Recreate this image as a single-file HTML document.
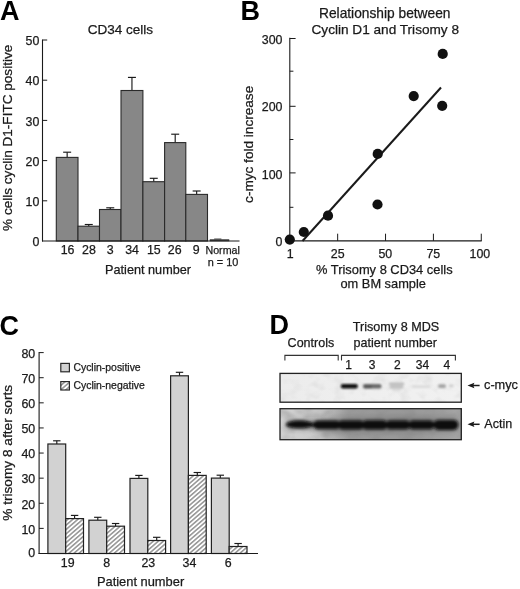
<!DOCTYPE html>
<html lang="en">
<head>
<meta charset="utf-8">
<title>Figure</title>
<style>
html,body{margin:0;padding:0;background:#fff;}
body{width:520px;height:589px;overflow:hidden;font-family:"Liberation Sans",sans-serif;}
svg{display:block;filter:grayscale(1) blur(0.3px);}
svg text{font-family:"Liberation Sans",sans-serif;fill:#1a1a1a;stroke:#1a1a1a;stroke-width:0.25px;}
</style>
</head>
<body>
<svg width="520" height="589" viewBox="0 0 520 589">
<defs>
<pattern id="hatch" width="3.3" height="8" patternUnits="userSpaceOnUse" patternTransform="rotate(49)">
<rect width="3.3" height="8" fill="#fff"/>
<line x1="0.8" y1="0" x2="0.8" y2="8" stroke="#1c1c1c" stroke-width="0.8"/>
</pattern>
<linearGradient id="b1bg" x1="0" x2="1" y1="0" y2="0">
<stop offset="0" stop-color="#ececec"/><stop offset="0.5" stop-color="#efefef"/><stop offset="1" stop-color="#f1f1f1"/>
</linearGradient>
<linearGradient id="b2bg" x1="0" x2="1" y1="0" y2="0">
<stop offset="0" stop-color="#d2d2d2"/><stop offset="0.22" stop-color="#cacaca"/><stop offset="0.38" stop-color="#9e9e9e"/><stop offset="0.7" stop-color="#9a9a9a"/><stop offset="1" stop-color="#a6a6a6"/>
</linearGradient>
<filter id="blur1" x="-10%" y="-100%" width="120%" height="300%"><feGaussianBlur stdDeviation="1.1 0.85"/></filter>
<filter id="blur2" x="-5%" y="-100%" width="110%" height="300%"><feGaussianBlur stdDeviation="1.5 1.35"/></filter>
<filter id="blur3" x="-5%" y="-100%" width="110%" height="300%"><feGaussianBlur stdDeviation="3 2.6"/></filter>
<filter id="noise1" x="0" y="0" width="100%" height="100%">
<feTurbulence type="fractalNoise" baseFrequency="0.09 0.12" numOctaves="2" seed="4" result="t"/>
<feColorMatrix in="t" type="matrix" values="0 0 0 0 0.55  0 0 0 0 0.55  0 0 0 0 0.55  1.6 0 0 0 -0.72"/>
</filter>
<filter id="noise2" x="0" y="0" width="100%" height="100%">
<feTurbulence type="fractalNoise" baseFrequency="0.07 0.1" numOctaves="2" seed="11" result="t"/>
<feColorMatrix in="t" type="matrix" values="0 0 0 0 0.25  0 0 0 0 0.25  0 0 0 0 0.25  2.2 0 0 0 -0.85"/>
</filter>
</defs>
<rect width="520" height="589" fill="#fff"/>
<g id="pA">
<text x="0.03" y="20" font-size="27" font-weight="bold" style="fill:#000;stroke:none">A</text>
<text x="87.7" y="34.2" font-size="13.53" textLength="65.4" lengthAdjust="spacingAndGlyphs">CD34 cells</text>
<line x1="67.15" y1="157.4" x2="67.15" y2="152.2" stroke="#1a1a1a" stroke-width="1.15"/>
<line x1="63.15" y1="152.2" x2="71.15" y2="152.2" stroke="#1a1a1a" stroke-width="1.15"/>
<rect x="56.3" y="157.4" width="21.7" height="83.6" fill="#878787" stroke="#2a2a2a" stroke-width="1.1"/>
<line x1="88.75" y1="226.2" x2="88.75" y2="224.5" stroke="#1a1a1a" stroke-width="1.15"/>
<line x1="84.75" y1="224.5" x2="92.75" y2="224.5" stroke="#1a1a1a" stroke-width="1.15"/>
<rect x="78.0" y="226.2" width="21.5" height="14.8" fill="#878787" stroke="#2a2a2a" stroke-width="1.1"/>
<line x1="110.25" y1="209.5" x2="110.25" y2="207.8" stroke="#1a1a1a" stroke-width="1.15"/>
<line x1="106.25" y1="207.8" x2="114.25" y2="207.8" stroke="#1a1a1a" stroke-width="1.15"/>
<rect x="99.5" y="209.5" width="21.5" height="31.5" fill="#878787" stroke="#2a2a2a" stroke-width="1.1"/>
<line x1="131.95" y1="90.5" x2="131.95" y2="77.4" stroke="#1a1a1a" stroke-width="1.15"/>
<line x1="127.95" y1="77.4" x2="135.95" y2="77.4" stroke="#1a1a1a" stroke-width="1.15"/>
<rect x="121.0" y="90.5" width="21.9" height="150.5" fill="#878787" stroke="#2a2a2a" stroke-width="1.1"/>
<line x1="153.75" y1="181.7" x2="153.75" y2="178.3" stroke="#1a1a1a" stroke-width="1.15"/>
<line x1="149.75" y1="178.3" x2="157.75" y2="178.3" stroke="#1a1a1a" stroke-width="1.15"/>
<rect x="142.9" y="181.7" width="21.7" height="59.3" fill="#878787" stroke="#2a2a2a" stroke-width="1.1"/>
<line x1="175.2" y1="142.6" x2="175.2" y2="134.2" stroke="#1a1a1a" stroke-width="1.15"/>
<line x1="171.2" y1="134.2" x2="179.2" y2="134.2" stroke="#1a1a1a" stroke-width="1.15"/>
<rect x="164.6" y="142.6" width="21.2" height="98.4" fill="#878787" stroke="#2a2a2a" stroke-width="1.1"/>
<line x1="196.65" y1="194.4" x2="196.65" y2="191.0" stroke="#1a1a1a" stroke-width="1.15"/>
<line x1="192.65" y1="191.0" x2="200.65" y2="191.0" stroke="#1a1a1a" stroke-width="1.15"/>
<rect x="185.8" y="194.4" width="21.7" height="46.6" fill="#878787" stroke="#2a2a2a" stroke-width="1.1"/>
<rect x="210.0" y="239.7" width="19.0" height="1.3" fill="#444" stroke="#333" stroke-width="0.6"/>
<line x1="214.2" y1="239.0" x2="221.4" y2="239.0" stroke="#333" stroke-width="0.9"/>
<line x1="42.5" y1="39.5" x2="42.5" y2="241.55" stroke="#1a1a1a" stroke-width="1.1"/>
<line x1="41.95" y1="241.0" x2="239.5" y2="241.0" stroke="#1a1a1a" stroke-width="1.1"/>
<text x="39.3" y="246.2" font-size="12.4" text-anchor="end">0</text>
<line x1="42.5" y1="200.8" x2="47.2" y2="200.8" stroke="#1a1a1a" stroke-width="1.0"/>
<text x="39.3" y="206.0" font-size="12.4" text-anchor="end">10</text>
<line x1="42.5" y1="160.6" x2="47.2" y2="160.6" stroke="#1a1a1a" stroke-width="1.0"/>
<text x="39.3" y="165.8" font-size="12.4" text-anchor="end">20</text>
<line x1="42.5" y1="120.4" x2="47.2" y2="120.4" stroke="#1a1a1a" stroke-width="1.0"/>
<text x="39.3" y="125.6" font-size="12.4" text-anchor="end">30</text>
<line x1="42.5" y1="80.2" x2="47.2" y2="80.2" stroke="#1a1a1a" stroke-width="1.0"/>
<text x="39.3" y="85.4" font-size="12.4" text-anchor="end">40</text>
<line x1="42.5" y1="40.0" x2="47.2" y2="40.0" stroke="#1a1a1a" stroke-width="1.0"/>
<text x="39.3" y="45.2" font-size="12.4" text-anchor="end">50</text>
<text x="67.6" y="254.3" font-size="12.4" text-anchor="middle">16</text>
<text x="88.9" y="254.3" font-size="12.4" text-anchor="middle">28</text>
<text x="110.3" y="254.3" font-size="12.4" text-anchor="middle">3</text>
<text x="132.1" y="254.3" font-size="12.4" text-anchor="middle">34</text>
<text x="153.8" y="254.3" font-size="12.4" text-anchor="middle">15</text>
<text x="174.7" y="254.3" font-size="12.4" text-anchor="middle">26</text>
<text x="196.2" y="254.3" font-size="12.4" text-anchor="middle">9</text>
<text x="205.5" y="253.8" font-size="10.64" textLength="34.3" lengthAdjust="spacingAndGlyphs">Normal</text>
<text x="207.7" y="266.4" font-size="10.9" textLength="30.6" lengthAdjust="spacingAndGlyphs">n = 10</text>
<text x="105.1" y="274.0" font-size="12.67" textLength="85.9" lengthAdjust="spacingAndGlyphs">Patient number</text>
<text x="11.7" y="230.9" font-size="13.57" textLength="186.2" lengthAdjust="spacingAndGlyphs" transform="rotate(-90 11.7 230.9)">% cells cyclin D1-FITC positive</text>
</g>
<g id="pB">
<text x="240.59" y="20" font-size="27" font-weight="bold" style="fill:#000;stroke:none">B</text>
<text x="319" y="18.3" font-size="13.75" textLength="131.5" lengthAdjust="spacingAndGlyphs">Relationship between</text>
<text x="311.5" y="33.7" font-size="13.61" textLength="147.5" lengthAdjust="spacingAndGlyphs">Cyclin D1 and Trisomy 8</text>
<line x1="289.8" y1="37.8" x2="289.8" y2="241.45" stroke="#1a1a1a" stroke-width="1.1"/>
<line x1="289.25" y1="240.9" x2="481.7" y2="240.9" stroke="#1a1a1a" stroke-width="1.1"/>
<line x1="289.8" y1="172.9" x2="295.6" y2="172.9" stroke="#1a1a1a" stroke-width="1.0"/>
<line x1="289.8" y1="106.3" x2="295.6" y2="106.3" stroke="#1a1a1a" stroke-width="1.0"/>
<line x1="289.8" y1="38.5" x2="295.6" y2="38.5" stroke="#1a1a1a" stroke-width="1.0"/>
<line x1="289.8" y1="207.3" x2="293.4" y2="207.3" stroke="#1a1a1a" stroke-width="1.0"/>
<line x1="289.8" y1="139.5" x2="293.4" y2="139.5" stroke="#1a1a1a" stroke-width="1.0"/>
<line x1="289.8" y1="71.2" x2="293.4" y2="71.2" stroke="#1a1a1a" stroke-width="1.0"/>
<text x="282.5" y="246.2" font-size="12.4" text-anchor="end">0</text>
<text x="282.5" y="178.7" font-size="12.4" text-anchor="end">100</text>
<text x="282.5" y="111.0" font-size="12.4" text-anchor="end">200</text>
<text x="282.5" y="43.6" font-size="12.4" text-anchor="end">300</text>
<line x1="337.67" y1="240.9" x2="337.67" y2="233.7" stroke="#1a1a1a" stroke-width="1.0"/>
<line x1="385.54" y1="240.9" x2="385.54" y2="233.7" stroke="#1a1a1a" stroke-width="1.0"/>
<line x1="433.41" y1="240.9" x2="433.41" y2="233.7" stroke="#1a1a1a" stroke-width="1.0"/>
<line x1="481.28" y1="240.9" x2="481.28" y2="233.7" stroke="#1a1a1a" stroke-width="1.0"/>
<text x="290.2" y="258.0" font-size="12.4" text-anchor="middle">1</text>
<text x="337.7" y="258.0" font-size="12.4" text-anchor="middle">25</text>
<text x="385.3" y="258.0" font-size="12.4" text-anchor="middle">50</text>
<text x="433.3" y="258.0" font-size="12.4" text-anchor="middle">75</text>
<text x="479.9" y="258.0" font-size="12.4" text-anchor="middle">100</text>
<text x="316" y="274.3" font-size="12.87" textLength="136.6" lengthAdjust="spacingAndGlyphs">% Trisomy 8 CD34 cells</text>
<text x="340.5" y="287.8" font-size="12.81" textLength="85.4" lengthAdjust="spacingAndGlyphs">om BM sample</text>
<text x="252.8" y="202.9" font-size="13.59" textLength="117.1" lengthAdjust="spacingAndGlyphs" transform="rotate(-90 252.8 202.9)">c-myc fold increase</text>
<line x1="302.5" y1="241" x2="441" y2="87.5" stroke="#1a1a1a" stroke-width="2.0"/>
<circle cx="289.8" cy="239.6" r="5.1" fill="#111"/>
<circle cx="303.8" cy="232.0" r="5.1" fill="#111"/>
<circle cx="328.0" cy="215.7" r="5.1" fill="#111"/>
<circle cx="377.5" cy="204.5" r="5.1" fill="#111"/>
<circle cx="377.7" cy="153.9" r="5.1" fill="#111"/>
<circle cx="413.7" cy="96.1" r="5.1" fill="#111"/>
<circle cx="442.2" cy="105.8" r="5.1" fill="#111"/>
<circle cx="442.7" cy="53.9" r="5.1" fill="#111"/>
</g>
<g id="pC">
<text x="-0.51" y="335" font-size="27" font-weight="bold" style="fill:#000;stroke:none">C</text>
<line x1="56.8" y1="444.0" x2="56.8" y2="440.8" stroke="#1a1a1a" stroke-width="1.15"/>
<line x1="53.1" y1="440.8" x2="60.5" y2="440.8" stroke="#1a1a1a" stroke-width="1.15"/>
<rect x="47.9" y="444.0" width="17.8" height="109.5" fill="#d2d2d2" stroke="#222" stroke-width="1.2"/>
<line x1="74.6" y1="518.6" x2="74.6" y2="515.4" stroke="#1a1a1a" stroke-width="1.15"/>
<line x1="70.9" y1="515.4" x2="78.3" y2="515.4" stroke="#1a1a1a" stroke-width="1.15"/>
<rect x="65.7" y="518.6" width="17.8" height="34.9" fill="url(#hatch)" stroke="#222" stroke-width="1.2"/>
<line x1="97.8" y1="520.2" x2="97.8" y2="517.3" stroke="#1a1a1a" stroke-width="1.15"/>
<line x1="94.1" y1="517.3" x2="101.5" y2="517.3" stroke="#1a1a1a" stroke-width="1.15"/>
<rect x="88.9" y="520.2" width="17.8" height="33.3" fill="#d2d2d2" stroke="#222" stroke-width="1.2"/>
<line x1="115.6" y1="526.2" x2="115.6" y2="523.5" stroke="#1a1a1a" stroke-width="1.15"/>
<line x1="111.9" y1="523.5" x2="119.3" y2="523.5" stroke="#1a1a1a" stroke-width="1.15"/>
<rect x="106.7" y="526.2" width="17.8" height="27.3" fill="url(#hatch)" stroke="#222" stroke-width="1.2"/>
<line x1="138.9" y1="478.4" x2="138.9" y2="475.4" stroke="#1a1a1a" stroke-width="1.15"/>
<line x1="135.2" y1="475.4" x2="142.6" y2="475.4" stroke="#1a1a1a" stroke-width="1.15"/>
<rect x="130.0" y="478.4" width="17.8" height="75.1" fill="#d2d2d2" stroke="#222" stroke-width="1.2"/>
<line x1="156.7" y1="540.5" x2="156.7" y2="537.3" stroke="#1a1a1a" stroke-width="1.15"/>
<line x1="153.0" y1="537.3" x2="160.4" y2="537.3" stroke="#1a1a1a" stroke-width="1.15"/>
<rect x="147.8" y="540.5" width="17.8" height="13.0" fill="url(#hatch)" stroke="#222" stroke-width="1.2"/>
<line x1="179.5" y1="375.8" x2="179.5" y2="372.3" stroke="#1a1a1a" stroke-width="1.15"/>
<line x1="175.8" y1="372.3" x2="183.2" y2="372.3" stroke="#1a1a1a" stroke-width="1.15"/>
<rect x="170.6" y="375.8" width="17.8" height="177.7" fill="#d2d2d2" stroke="#222" stroke-width="1.2"/>
<line x1="197.3" y1="475.4" x2="197.3" y2="472.5" stroke="#1a1a1a" stroke-width="1.15"/>
<line x1="193.6" y1="472.5" x2="201.0" y2="472.5" stroke="#1a1a1a" stroke-width="1.15"/>
<rect x="188.4" y="475.4" width="17.8" height="78.1" fill="url(#hatch)" stroke="#222" stroke-width="1.2"/>
<line x1="220.3" y1="478.1" x2="220.3" y2="475.2" stroke="#1a1a1a" stroke-width="1.15"/>
<line x1="216.6" y1="475.2" x2="224.0" y2="475.2" stroke="#1a1a1a" stroke-width="1.15"/>
<rect x="211.4" y="478.1" width="17.8" height="75.4" fill="#d2d2d2" stroke="#222" stroke-width="1.2"/>
<line x1="238.1" y1="546.5" x2="238.1" y2="543.5" stroke="#1a1a1a" stroke-width="1.15"/>
<line x1="234.4" y1="543.5" x2="241.8" y2="543.5" stroke="#1a1a1a" stroke-width="1.15"/>
<rect x="229.2" y="546.5" width="17.8" height="7.0" fill="url(#hatch)" stroke="#222" stroke-width="1.2"/>
<line x1="39.1" y1="352.1" x2="39.1" y2="554.05" stroke="#1a1a1a" stroke-width="1.1"/>
<line x1="38.55" y1="553.5" x2="258" y2="553.5" stroke="#1a1a1a" stroke-width="1.1"/>
<text x="35.2" y="557.0" font-size="12.4" text-anchor="end">0</text>
<line x1="39.1" y1="528.39" x2="43.7" y2="528.39" stroke="#1a1a1a" stroke-width="1.0"/>
<text x="35.2" y="533.69" font-size="12.4" text-anchor="end">10</text>
<line x1="39.1" y1="503.27" x2="43.7" y2="503.27" stroke="#1a1a1a" stroke-width="1.0"/>
<text x="35.2" y="508.57" font-size="12.4" text-anchor="end">20</text>
<line x1="39.1" y1="478.16" x2="43.7" y2="478.16" stroke="#1a1a1a" stroke-width="1.0"/>
<text x="35.2" y="483.46" font-size="12.4" text-anchor="end">30</text>
<line x1="39.1" y1="453.05" x2="43.7" y2="453.05" stroke="#1a1a1a" stroke-width="1.0"/>
<text x="35.2" y="458.35" font-size="12.4" text-anchor="end">40</text>
<line x1="39.1" y1="427.94" x2="43.7" y2="427.94" stroke="#1a1a1a" stroke-width="1.0"/>
<text x="35.2" y="433.24" font-size="12.4" text-anchor="end">50</text>
<line x1="39.1" y1="402.83" x2="43.7" y2="402.83" stroke="#1a1a1a" stroke-width="1.0"/>
<text x="35.2" y="408.13" font-size="12.4" text-anchor="end">60</text>
<line x1="39.1" y1="377.71" x2="43.7" y2="377.71" stroke="#1a1a1a" stroke-width="1.0"/>
<text x="35.2" y="383.01" font-size="12.4" text-anchor="end">70</text>
<line x1="39.1" y1="352.6" x2="43.7" y2="352.6" stroke="#1a1a1a" stroke-width="1.0"/>
<text x="35.2" y="357.9" font-size="12.4" text-anchor="end">80</text>
<text x="67.7" y="566.7" font-size="12.4" text-anchor="middle">19</text>
<text x="106.8" y="566.7" font-size="12.4" text-anchor="middle">8</text>
<text x="148.3" y="566.7" font-size="12.4" text-anchor="middle">23</text>
<text x="189.5" y="566.7" font-size="12.4" text-anchor="middle">34</text>
<text x="228.2" y="566.7" font-size="12.4" text-anchor="middle">6</text>
<text x="96.9" y="586.4" font-size="12.87" textLength="87.3" lengthAdjust="spacingAndGlyphs">Patient number</text>
<text x="11.9" y="520.8" font-size="13.66" textLength="135.9" lengthAdjust="spacingAndGlyphs" transform="rotate(-90 11.9 520.8)">% trisomy 8 after sorts</text>
<rect x="60.8" y="363.4" width="8.6" height="8.4" fill="#d2d2d2" stroke="#2a2a2a" stroke-width="1.2"/>
<rect x="60.8" y="381.6" width="8.6" height="8.4" fill="url(#hatch)" stroke="#2a2a2a" stroke-width="1.2"/>
<text x="73.4" y="371.0" font-size="10.44" textLength="67.3" lengthAdjust="spacingAndGlyphs">Cyclin-positive</text>
<text x="73.4" y="389.0" font-size="10.44" textLength="71.4" lengthAdjust="spacingAndGlyphs">Cyclin-negative</text>
</g>
<g id="pD">
<text x="269.49" y="334" font-size="27" font-weight="bold" style="fill:#000;stroke:none">D</text>
<text x="287.6" y="347.4" font-size="12.51" textLength="46.6" lengthAdjust="spacingAndGlyphs">Controls</text>
<text x="352.8" y="331.4" font-size="12.61" textLength="86.4" lengthAdjust="spacingAndGlyphs">Trisomy 8 MDS</text>
<text x="353.5" y="346.7" font-size="12.52" textLength="83.5" lengthAdjust="spacingAndGlyphs">patient number</text>
<path d="M284.9 360.4V355.4H338.2V360.4" fill="none" stroke="#333" stroke-width="1.1"/>
<path d="M341.5 360.4V355.4H455.4V360.4" fill="none" stroke="#333" stroke-width="1.1"/>
<text x="348.6" y="368.8" font-size="12.0" text-anchor="middle">1</text>
<text x="372.0" y="368.8" font-size="12.0" text-anchor="middle">3</text>
<text x="397.4" y="368.8" font-size="12.0" text-anchor="middle">2</text>
<text x="422.5" y="368.8" font-size="12.0" text-anchor="middle">34</text>
<text x="446.8" y="368.8" font-size="12.0" text-anchor="middle">4</text>
<rect x="280.0" y="373.4" width="181.3" height="28.8" fill="url(#b1bg)"/>
<rect x="280.0" y="373.4" width="181.3" height="28.8" filter="url(#noise1)" opacity="0.4"/>
<g filter="url(#blur1)">
<rect x="340.8" y="383.9" width="17" height="4.7" rx="2" fill="#080808"/>
<rect x="363" y="384.0" width="18.5" height="4.4" rx="2" fill="#6a6a6a"/>
<rect x="364" y="385.6" width="8" height="2.6" rx="1.3" fill="#555"/>
<rect x="388.8" y="382.6" width="15.5" height="2.6" rx="1.3" fill="#bcbcbc"/>
<rect x="389.5" y="385.6" width="14" height="3" rx="1.5" fill="#bebebe"/>
<rect x="392" y="388.8" width="9" height="2.4" rx="1.2" fill="#dadada"/>
<rect x="412" y="385.6" width="18" height="2.2" rx="1" fill="#d6d6d6"/>
<rect x="438" y="384.2" width="8" height="3.8" rx="1.9" fill="#a2a2a2"/>
<rect x="449" y="384.6" width="4.5" height="2.6" rx="1" fill="#cccccc"/>
</g>
<rect x="280.0" y="373.4" width="181.3" height="28.8" fill="none" stroke="#222" stroke-width="1.3"/>
<rect x="280.0" y="408.7" width="181.3" height="31" fill="url(#b2bg)"/>
<rect x="280.0" y="408.7" width="181.3" height="31" filter="url(#noise2)" opacity="0.4"/>
<g filter="url(#blur3)" opacity="0.32">
<rect x="286" y="419.5" width="172" height="10" rx="5" fill="#222"/>
<rect x="326" y="414" width="132" height="21" rx="6" fill="#444" opacity="0.4"/>
<rect x="315" y="427" width="34" height="8" rx="3" fill="#333" opacity="0.5"/>
</g>
<g filter="url(#blur2)">
<rect x="290" y="422.4" width="166" height="4.6" rx="2.3" fill="#2a2a2a"/>
<ellipse cx="299.5" cy="424.4" rx="13.6" ry="3.9" fill="#080808"/>
<rect x="313.4" y="420.5" width="27.1" height="8.8" rx="4.4" fill="#0c0c0c"/>
<rect x="337.5" y="420.4" width="27.0" height="9.0" rx="4.5" fill="#0c0c0c"/>
<rect x="362.0" y="420.3" width="25.5" height="9.2" rx="4.6" fill="#0c0c0c"/>
<rect x="385.6" y="420.6" width="24.7" height="8.6" rx="4.3" fill="#0c0c0c"/>
<rect x="408.6" y="420.5" width="25.7" height="8.8" rx="4.4" fill="#0c0c0c"/>
<rect x="433.6" y="419.9" width="24.8" height="10.0" rx="5.0" fill="#0c0c0c"/>
</g>
<rect x="280.0" y="408.7" width="181.3" height="31" fill="none" stroke="#222" stroke-width="1.3"/>
<line x1="470.5" y1="385.5" x2="479.6" y2="385.5" stroke="#1a1a1a" stroke-width="1.5"/>
<path d="M467.5 385.5L474.4 382.7L473.3 385.5L474.4 388.3Z" fill="#1a1a1a"/>
<line x1="470.5" y1="424.3" x2="479.6" y2="424.3" stroke="#1a1a1a" stroke-width="1.5"/>
<path d="M467.5 424.3L474.4 421.5L473.3 424.3L474.4 427.1Z" fill="#1a1a1a"/>
<text x="484.0" y="388.8" font-size="12.75" textLength="34.0" lengthAdjust="spacingAndGlyphs">c-myc</text>
<text x="484.3" y="428.1" font-size="12.55" textLength="27.9" lengthAdjust="spacingAndGlyphs">Actin</text>
</g>
</svg>
</body>
</html>
